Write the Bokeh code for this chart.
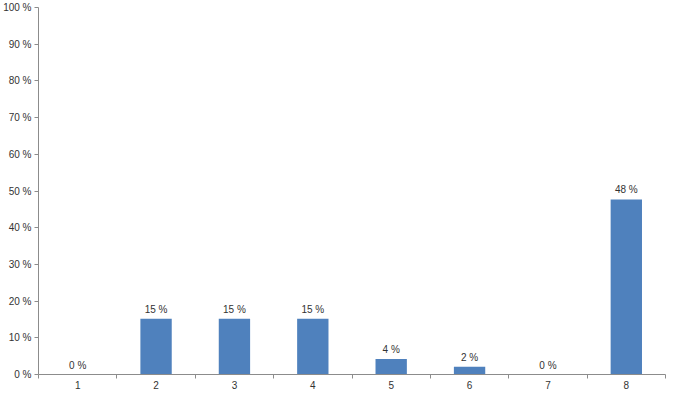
from bokeh.plotting import figure
from bokeh.models import Range1d, FixedTicker, ColumnDataSource
from bokeh.core.properties import value
from bokeh.embed import file_html
from bokeh.resources import INLINE

categories = ["1", "2", "3", "4", "5", "6", "7", "8"]
values = [0.0, 15.2, 15.2, 15.2, 4.2, 2.1, 0.0, 47.7]
bar_labels = ["0 %", "15 %", "15 %", "15 %", "4 %", "2 %", "0 %", "48 %"]
y_ticks = [0, 10, 20, 30, 40, 50, 60, 70, 80, 90, 100]
y_tick_labels = ["0 %", "10 %", "20 %", "30 %", "40 %", "50 %", "60 %", "70 %", "80 %", "90 %", "100 %"]

FONT = "Liberation Sans"
AXIS_COLOR = "#8c8c8c"
TEXT_COLOR = "#333333"

xs = list(range(1, len(categories) + 1))
src = ColumnDataSource(dict(x=xs, top=values, label=bar_labels))

p = figure(width=669, height=391, output_backend="svg", toolbar_location=None,
           x_range=Range1d(0.5, len(categories) + 0.5), y_range=Range1d(0, 100),
           min_border_left=0, min_border_right=4, min_border_top=7, min_border_bottom=0)
p.outline_line_color = None
p.xgrid.grid_line_color = None
p.ygrid.grid_line_color = None
p.background_fill_color = "white"
p.border_fill_color = "white"

p.vbar(x="x", top="top", bottom=0, width=0.4, source=src,
       fill_color="#4F81BD", line_color=None)
p.text(x="x", y="top", text="label", source=src, text_align="center",
       text_baseline="bottom", y_offset=-4, text_font=value(FONT),
       text_font_size="10px", text_color=TEXT_COLOR)

xa = p.xaxis[0]
xa.ticker = FixedTicker(ticks=xs, minor_ticks=[x - 0.5 for x in xs] + [xs[-1] + 0.5])
xa.major_label_overrides = {x: c for x, c in zip(xs, categories)}
xa.major_tick_line_color = None
xa.major_tick_out = 0
xa.major_tick_in = 0
xa.minor_tick_line_color = AXIS_COLOR
xa.minor_tick_out = 4
xa.minor_tick_in = 0
xa.axis_line_color = AXIS_COLOR
xa.major_label_text_font = FONT
xa.major_label_text_font_size = "10px"
xa.major_label_text_color = TEXT_COLOR
xa.major_label_standoff = 2

ya = p.yaxis[0]
ya.ticker = FixedTicker(ticks=y_ticks, minor_ticks=[])
ya.major_label_overrides = {t: l for t, l in zip(y_ticks, y_tick_labels)}
ya.major_tick_line_color = AXIS_COLOR
ya.major_tick_out = 4
ya.major_tick_in = 0
ya.minor_tick_line_color = None
ya.axis_line_color = AXIS_COLOR
ya.major_label_text_font = FONT
ya.major_label_text_font_size = "10px"
ya.major_label_text_color = TEXT_COLOR
ya.major_label_standoff = 3

open("out.html", "w").write(file_html(p, INLINE))
